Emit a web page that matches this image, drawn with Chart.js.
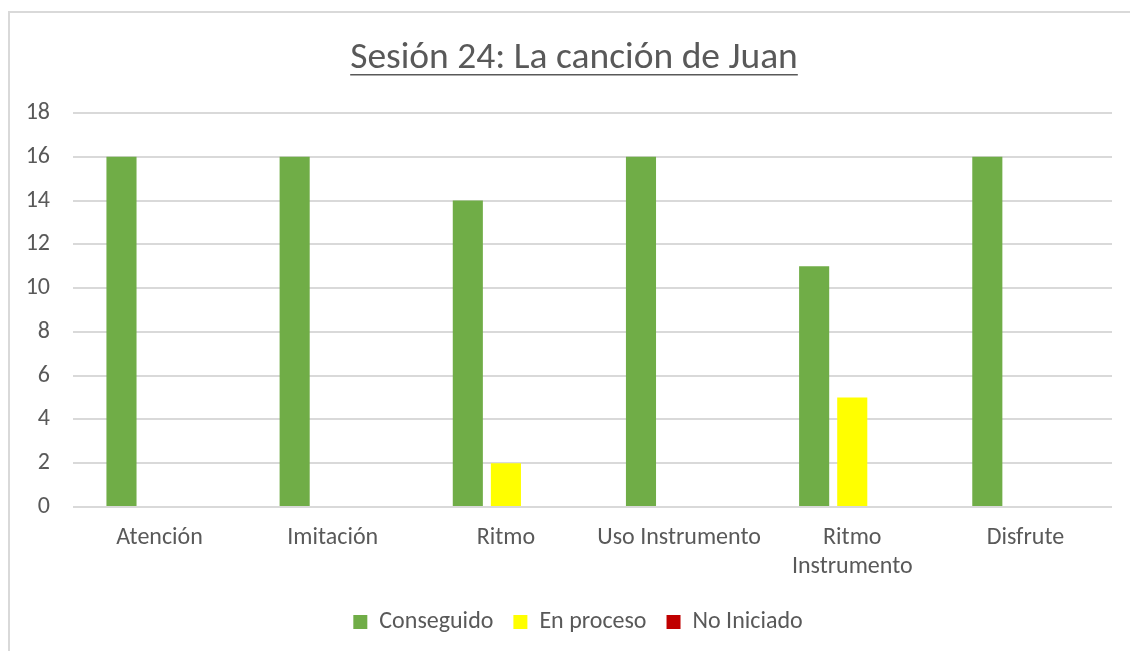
<!DOCTYPE html>
<html>
<head>
<meta charset="utf-8">
<script src="https://cdn.jsdelivr.net/npm/chart.js@4.4.1/dist/chart.umd.min.js"></script>
<style>
  html, body { margin: 0; padding: 0; background: #fff; overflow: hidden; }
  #frame { position: absolute; left: 8px; top: 11px; width: 1140px; height: 660px; border: 2px solid #d9d9d9; border-right: none; border-bottom: none; }
  #wrap { position: absolute; left: 0; top: 0; width: 1130px; height: 651px; }
</style>
</head>
<body>
<div id="frame"></div>
<div id="wrap"><canvas id="chart"></canvas></div>
<script>
// chart data
var categories = ["Atención", "Imitación", "Ritmo", "Uso Instrumento", ["Ritmo", "Instrumento"], "Disfrute"];
var conseguido = [16, 16, 14, 16, 11, 16];
var enProceso = [0, 0, 2, 0, 5, 0];
var noIniciado = [0, 0, 0, 0, 0, 0];
var yTicks = [0, 2, 4, 6, 8, 10, 12, 14, 16, 18];

var FONT = "Carlito, 'Open Sans', 'Noto Sans', sans-serif";
var TEXT = '#595959';

// the original centres title and legend on the whole frame, not on the plot
var shiftBlocks = {
    id: 'shiftBlocks',
    afterLayout: function (chart) {
        if (chart.titleBlock) { chart.titleBlock.left += 18; chart.titleBlock.right += 18; }
        if (chart.legend) { chart.legend.left += 22; chart.legend.right += 22; }
    }
};

// underline the title like the original
var underlineTitle = {
    id: 'underlineTitle',
    afterDraw: function (chart) {
        var t = chart.titleBlock;
        if (!t || !t._padding) return;
        var ctx = chart.ctx;
        var opts = chart.options.plugins.title;
        ctx.save();
        ctx.font = opts.font.size + 'px ' + opts.font.family;
        var w = ctx.measureText(opts.text).width;
        var cx = (t.left + t.right) / 2;
        var y = t.top + t._padding.top + opts.font.size * 1.03;
        ctx.strokeStyle = TEXT;
        ctx.lineWidth = 1.5;
        ctx.beginPath();
        ctx.moveTo(cx - w / 2, y);
        ctx.lineTo(cx + w / 2, y);
        ctx.stroke();
        ctx.restore();
    }
};

new Chart(document.getElementById('chart'), {
    type: 'bar',
    data: {
        labels: categories,
        datasets: [
            { label: 'Conseguido', data: conseguido, backgroundColor: '#70AD47' },
            { label: 'En proceso', data: enProceso, backgroundColor: '#FFFF00' },
            { label: 'No Iniciado', data: noIniciado, backgroundColor: '#C00000' }
        ]
    },
    options: {
        responsive: true,
        maintainAspectRatio: false,
        animation: false,
        datasets: { bar: { categoryPercentage: 0.66, barPercentage: 0.79 } },
        layout: { padding: { left: 0, right: 18, top: 17, bottom: 7 } },
        scales: {
            x: {
                afterFit: function (scale) { scale.height = 83; },
                grid: { display: false, drawTicks: false },
                border: { display: false },
                ticks: { color: TEXT, font: { family: FONT, size: 24, lineHeight: 1.2 }, padding: 17, maxRotation: 0, autoSkip: false }
            },
            y: {
                min: 0,
                max: 18,
                afterFit: function (scale) { scale.width = 73; },
                afterBuildTicks: function (scale) { scale.ticks = yTicks.map(function (v) { return { value: v }; }); },
                grid: { color: '#d9d9d9', lineWidth: 2, drawTicks: false },
                border: { display: false },
                ticks: { color: TEXT, font: { family: FONT, size: 24 }, padding: 23 }
            }
        },
        plugins: {
            title: {
                display: true,
                text: 'Sesión 24: La canción de Juan',
                color: TEXT,
                font: { family: FONT, size: 37.5, weight: 'normal' },
                padding: { top: 19, bottom: 32 }
            },
            legend: {
                display: true,
                position: 'bottom',
                labels: { color: TEXT, font: { family: FONT, size: 24 }, boxWidth: 14, boxHeight: 14, padding: 20 }
            },
            tooltip: { enabled: false }
        }
    },
    plugins: [shiftBlocks, underlineTitle]
});
</script>
</body>
</html>
